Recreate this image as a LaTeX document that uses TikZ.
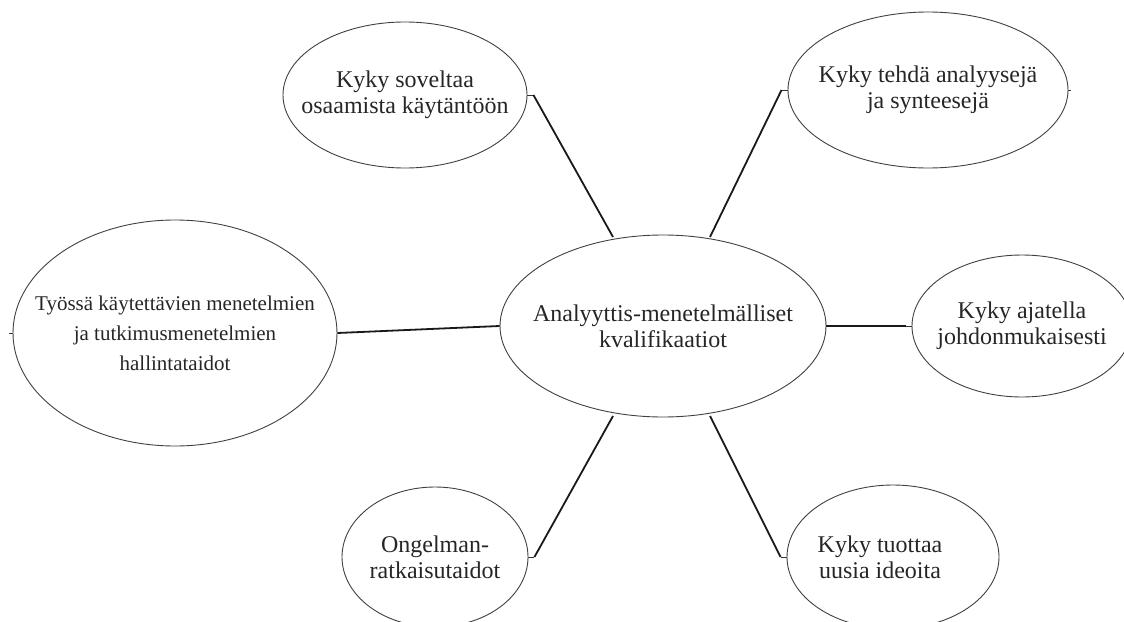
\documentclass[tikz,border=0pt]{standalone}
\usepackage{fontspec}
\setmainfont{Liberation Serif}
\usetikzlibrary{shapes.geometric}
\begin{document}
\begin{tikzpicture}[x=1pt,y=-1pt,
  bubble/.style={ellipse,draw=black!75,line width=0.9pt,inner sep=0pt},
  caption/.style={align=center,inner sep=0pt,
    font=\fontsize{24}{26}\selectfont,text=black!85},
  link/.style={line width=1.8pt,black!90},
  stub/.style={line width=0.9pt,black!80}]
\useasboundingbox (0,0) rectangle (1124,621);
\clip (0,0) rectangle (1124,621);

% central concept
\node[bubble,minimum width=326pt,minimum height=182pt] (c) at (663,326) {};
\node[caption] (c-t) at (c.center) {Analyyttis-menetelmälliset\\kvalifikaatiot};

% surrounding skills
\node[bubble,minimum width=244pt,minimum height=146pt] (tl) at (405,95) {};
\node[caption] (tl-t) at (tl.center) {Kyky soveltaa\\osaamista käytäntöön};
\node[bubble,minimum width=280pt,minimum height=156pt] (tr) at (928,90) {};
\node[caption] (tr-t) at (tr.center) {Kyky tehdä analyysejä\\ja synteesejä};
\node[bubble,minimum width=324pt,minimum height=226pt] (l) at (175,333) {};
\node[caption,font=\fontsize{21}{30}\selectfont] (l-t) at (l.center)
  {Työssä käytettävien menetelmien\\ja tutkimusmenetelmien\\hallintataidot};
\node[bubble,minimum width=220pt,minimum height=142pt] (r) at (1022,326) {};
\node[caption] (r-t) at (r.center) {Kyky ajatella\\johdonmukaisesti};
\node[bubble,minimum width=186pt,minimum height=140pt] (bl) at (435,557) {};
\node[caption] (bl-t) at (bl.center) {Ongelman-\\ratkaisutaidot};
\node[bubble,minimum width=212pt,minimum height=144pt] (br) at (893,557) {};
\node[caption] (br-t) at ([xshift=-13pt]br.center) {Kyky tuottaa\\uusia ideoita};

% attachment points on the central ellipse
\coordinate (cTL) at (613,237);
\coordinate (cTR) at (710,237);
\coordinate (cBL) at (613,416);
\coordinate (cBR) at (710,416);
\coordinate (cL) at (c.west);
\coordinate (cR) at (c.east);

% short stubs leaving the outer ellipses
\coordinate (sTL) at ([xshift=6pt]tl.east);
\coordinate (sTR) at ([xshift=-6pt]tr.west);
\coordinate (sR) at ([xshift=-6pt]r.west);
\coordinate (sBL) at ([xshift=6pt]bl.east);
\coordinate (sBR) at ([xshift=-6pt]br.west);

\draw[stub] (tl.east) -- (sTL);
\draw[stub] (tr.west) -- (sTR);
\draw[stub] (r.west) -- (sR);
\draw[stub] (bl.east) -- (sBL);
\draw[stub] (br.west) -- (sBR);
\draw[stub] (tr.east) -- ++(3,0);
\draw[stub] (l.west) -- ++(-4,0);

% connectors
\draw[link] (sTL) -- (cTL);
\draw[link] (sTR) -- (cTR);
\draw[link] (l.east) -- (cL);
\draw[link] (cR) -- (sR);
\draw[link] (sBL) -- (cBL);
\draw[link] (sBR) -- (cBR);
\end{tikzpicture}
\end{document}
